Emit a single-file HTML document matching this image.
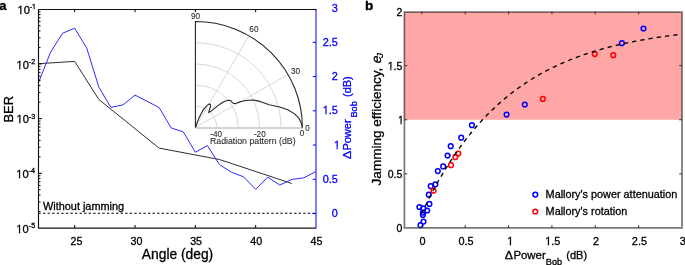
<!DOCTYPE html><html><head><meta charset="utf-8"><style>html,body{margin:0;padding:0;background:#fff;}svg{stroke-width:0.3px;display:block;will-change:transform;}text{font-family:"Liberation Sans", sans-serif;}</style></head><body>
<svg width="685" height="265" viewBox="0 0 685 265">
<line x1="38.50" y1="213.2" x2="316.00" y2="213.2" stroke="#000" stroke-width="1.05" stroke-dasharray="2.4 2.165" stroke-dashoffset="0.07"/>
<polyline points="38.50,63.70 74.70,61.40 98.83,99.50 159.15,148.10 219.48,159.50 291.87,183.50" fill="none" stroke="#2e2e2e" stroke-width="1.0" stroke-linejoin="round"/>
<polyline points="38.50,82.60 50.57,52.20 62.63,33.20 74.70,28.20 86.76,48.20 98.83,87.10 110.89,107.40 122.96,104.90 135.02,95.10 147.09,101.30 159.15,107.60 171.22,128.00 183.28,131.80 195.35,152.20 207.41,145.60 219.48,164.60 231.54,172.30 243.61,176.80 255.67,189.40 267.74,177.10 279.80,185.10 291.87,179.40 303.93,177.80 316.00,171.50" fill="none" stroke="#2a2aff" stroke-width="1.0" stroke-linejoin="round"/>
<path d="M216.80,127.50 A21.40,21.20 0 0 0 195.40,106.30 M238.20,127.50 A42.80,42.40 0 0 0 195.40,85.10 M259.60,127.50 A64.20,63.60 0 0 0 195.40,63.90 M281.00,127.50 A85.60,84.80 0 0 0 195.40,42.70 M195.40,127.50 L288.06,74.50 M195.40,127.50 L248.90,35.70" fill="none" stroke="#d4d4d4" stroke-width="0.9"/>
<line x1="195.40" y1="128.0" x2="302.90" y2="128.0" stroke="#c4c4c4" stroke-width="1.5"/>
<path d="M195.40,127.50 L195.40,21.50 A107.00,106.00 0 0 1 302.40,127.50" fill="none" stroke="#262626" stroke-width="1.1"/>
<polyline points="195.60,127.30 197.20,122.50 199.00,117.90 202.80,110.40 206.60,105.90 208.50,104.30 209.60,103.90 210.60,104.60 210.30,107.20 208.70,112.60 211.10,111.10 215.70,107.40 220.20,103.90 224.70,101.30 228.50,100.20 230.70,100.50 232.00,102.20 233.40,103.40 235.50,103.50 238.30,102.40 243.00,101.00 248.00,100.20 253.40,100.00 260.00,101.40 269.20,104.70 279.80,107.00 287.70,109.70 294.30,113.60 298.80,118.10 301.50,123.40 302.30,127.30" fill="none" stroke="#262626" stroke-width="1.1" stroke-linejoin="round"/>
<g font-size="8.2" fill="#262626" stroke="#262626" text-anchor="middle" style="stroke-width:0.08px">
<text x="195.60" y="19.35">90</text>
<text x="253.90" y="32.05">60</text>
<text x="295.50" y="74.05">30</text>
<text x="307.60" y="131.15">0</text>
<text x="216.20" y="136.65">-40</text>
<text x="259.80" y="136.65">-20</text>
<text x="302.10" y="136.35">0</text>
</g>
<text x="210" y="143.7" font-size="8.75" fill="#262626" stroke="#262626" style="stroke-width:0.08px">Radiation pattern (dB)</text>
<path d="M38.50,211.54 h2 M38.50,201.91 h2 M38.50,195.07 h2 M38.50,189.78 h2 M38.50,185.44 h2 M38.50,181.78 h2 M38.50,178.61 h2 M38.50,175.81 h2 M38.50,173.31 h3.5 M38.50,156.85 h2 M38.50,147.22 h2 M38.50,140.39 h2 M38.50,135.09 h2 M38.50,130.76 h2 M38.50,127.10 h2 M38.50,123.92 h2 M38.50,121.13 h2 M38.50,118.62 h3.5 M38.50,102.16 h2 M38.50,92.53 h2 M38.50,85.70 h2 M38.50,80.40 h2 M38.50,76.07 h2 M38.50,72.41 h2 M38.50,69.24 h2 M38.50,66.44 h2 M38.50,63.94 h3.5 M38.50,47.47 h2 M38.50,37.84 h2 M38.50,31.01 h2 M38.50,25.71 h2 M38.50,21.38 h2 M38.50,17.72 h2 M38.50,14.55 h2 M38.50,11.75 h2 M74.70,228.00 v-3 M74.70,9.25 v3 M135.02,228.00 v-3 M135.02,9.25 v3 M195.35,228.00 v-3 M195.35,9.25 v3 M255.67,228.00 v-3 M255.67,9.25 v3" stroke="#000" stroke-width="1" fill="none"/>
<path d="M38.50,8.95 V228.60 M37.95,9.5 H316.00" stroke="#111" stroke-width="1.15" fill="none"/>
<path d="M38.00,228.15 H316.00" stroke="#151515" stroke-width="1.3" fill="none"/>
<path d="M316.00,9.25 V228.50 M316.00,213.50 h-3.2 M316.00,179.27 h-3.2 M316.00,145.04 h-3.2 M316.00,110.81 h-3.2 M316.00,76.58 h-3.2 M316.00,42.35 h-3.2" stroke="#0000ff" stroke-width="1" fill="none"/>
<path d="M313.00,9.5 H316.50" stroke="#111" stroke-width="1.15" fill="none"/>
<g font-size="11.1" fill="#000" stroke="#000">
<text x="17.50" y="13.90">10</text>
<text x="29.70" y="9.25" font-size="7.2">-1</text>
<text x="16.50" y="68.59">10</text>
<text x="28.80" y="63.94" font-size="7.2">-2</text>
<text x="16.50" y="123.28">10</text>
<text x="28.80" y="118.62" font-size="7.2">-3</text>
<text x="16.30" y="177.96">10</text>
<text x="28.60" y="173.31" font-size="7.2">-4</text>
<text x="16.30" y="232.65">10</text>
<text x="28.80" y="228.00" font-size="7.2">-5</text>
</g>
<g font-size="10.7" fill="#000" stroke="#000" text-anchor="middle">
<text x="76.50" y="244.8">25</text>
<text x="136.50" y="244.8">30</text>
<text x="196.10" y="244.8">35</text>
<text x="256.30" y="244.8">40</text>
<text x="316.40" y="244.8">45</text>
</g>
<g font-size="10.9" fill="#0000ff" stroke="#0000ff" text-anchor="end">
<text x="337.80" y="217.05">0</text>
<text x="337.80" y="182.82">0.5</text>
<text x="340.00" y="148.59">1</text>
<text x="337.80" y="114.36">1.5</text>
<text x="337.80" y="80.13">2</text>
<text x="337.80" y="45.90">2.5</text>
<text x="337.80" y="11.67">3</text>
</g>
<text x="177.5" y="258.8" font-size="13.8" text-anchor="middle" fill="#000" stroke="#000">Angle (deg)</text>
<text transform="translate(12.6,109.3) rotate(-90)" font-size="12.9" text-anchor="middle" fill="#000" stroke="#000">BER</text>
<text x="43" y="209.8" font-size="10.9" fill="#000" stroke="#000">Without jamming</text>
<g fill="#0000ff" stroke="#0000ff" font-size="11">
<text transform="translate(351.3,159.2) rotate(-90) scale(1.17,1)" stroke="#0000ff" stroke-width="0.25">&#916;</text>
<text transform="translate(351.3,150.6) rotate(-90)">Power</text>
<text transform="translate(357.1,117.6) rotate(-90)" font-size="9.2">Bob</text>
<text transform="translate(351.3,97.0) rotate(-90)">(dB)</text>
</g>
<text x="-0.8" y="9.6" font-size="13" font-weight="bold" fill="#000" stroke="#000">a</text>
<rect x="404.0" y="12.0" width="278.00" height="107.75" fill="#ffa6a6"/>
<circle cx="420.50" cy="225.20" r="2.35" fill="none" stroke="#0000ff" stroke-width="1.5"/>
<circle cx="423.50" cy="221.60" r="2.35" fill="none" stroke="#0000ff" stroke-width="1.5"/>
<circle cx="422.90" cy="214.90" r="2.35" fill="none" stroke="#0000ff" stroke-width="1.5"/>
<circle cx="422.90" cy="212.60" r="2.35" fill="none" stroke="#0000ff" stroke-width="1.5"/>
<circle cx="423.30" cy="208.40" r="2.35" fill="none" stroke="#0000ff" stroke-width="1.5"/>
<circle cx="427.20" cy="210.50" r="2.35" fill="none" stroke="#0000ff" stroke-width="1.5"/>
<circle cx="419.40" cy="207.00" r="2.35" fill="none" stroke="#0000ff" stroke-width="1.5"/>
<circle cx="429.40" cy="203.90" r="2.35" fill="none" stroke="#0000ff" stroke-width="1.5"/>
<circle cx="428.80" cy="194.70" r="2.35" fill="none" stroke="#0000ff" stroke-width="1.5"/>
<circle cx="430.70" cy="186.20" r="2.35" fill="none" stroke="#0000ff" stroke-width="1.5"/>
<circle cx="435.40" cy="184.30" r="2.35" fill="none" stroke="#0000ff" stroke-width="1.5"/>
<circle cx="437.80" cy="171.10" r="2.35" fill="none" stroke="#0000ff" stroke-width="1.5"/>
<circle cx="443.20" cy="166.40" r="2.35" fill="none" stroke="#0000ff" stroke-width="1.5"/>
<circle cx="447.60" cy="155.60" r="2.35" fill="none" stroke="#0000ff" stroke-width="1.5"/>
<circle cx="450.70" cy="146.20" r="2.35" fill="none" stroke="#0000ff" stroke-width="1.5"/>
<circle cx="461.20" cy="137.70" r="2.35" fill="none" stroke="#0000ff" stroke-width="1.5"/>
<circle cx="471.90" cy="125.20" r="2.35" fill="none" stroke="#0000ff" stroke-width="1.5"/>
<circle cx="506.60" cy="114.60" r="2.35" fill="none" stroke="#0000ff" stroke-width="1.5"/>
<circle cx="524.80" cy="104.50" r="2.35" fill="none" stroke="#0000ff" stroke-width="1.5"/>
<circle cx="621.90" cy="43.20" r="2.35" fill="none" stroke="#0000ff" stroke-width="1.5"/>
<circle cx="643.50" cy="28.50" r="2.35" fill="none" stroke="#0000ff" stroke-width="1.5"/>
<circle cx="433.50" cy="190.70" r="2.35" fill="none" stroke="#ff0000" stroke-width="1.5"/>
<circle cx="451.00" cy="165.20" r="2.35" fill="none" stroke="#ff0000" stroke-width="1.5"/>
<circle cx="455.30" cy="157.20" r="2.35" fill="none" stroke="#ff0000" stroke-width="1.5"/>
<circle cx="458.30" cy="153.50" r="2.35" fill="none" stroke="#ff0000" stroke-width="1.5"/>
<circle cx="542.90" cy="98.90" r="2.35" fill="none" stroke="#ff0000" stroke-width="1.5"/>
<circle cx="594.80" cy="54.10" r="2.35" fill="none" stroke="#ff0000" stroke-width="1.5"/>
<circle cx="613.30" cy="55.20" r="2.35" fill="none" stroke="#ff0000" stroke-width="1.5"/>
<polyline points="421.84,213.06 422.27,212.16 422.70,211.25 423.13,210.36 423.56,209.46 423.99,208.57 424.41,207.69 424.84,206.81 425.27,205.93 425.70,205.06 426.13,204.19 426.56,203.33 426.99,202.47 427.41,201.61 427.84,200.76 428.27,199.92 428.70,199.07 429.13,198.23 429.56,197.40 429.99,196.57 430.41,195.74 430.84,194.92 431.27,194.10 431.70,193.28 432.13,192.47 432.56,191.66 432.99,190.86 433.41,190.06 433.84,189.26 434.27,188.47 434.70,187.68 435.13,186.90 435.56,186.12 435.99,185.34 436.41,184.57 436.84,183.80 437.27,183.03 437.70,182.27 438.13,181.51 438.56,180.76 438.99,180.00 439.41,179.26 439.84,178.51 440.27,177.77 440.70,177.03 441.13,176.30 441.56,175.57 441.98,174.84 442.41,174.12 442.84,173.40 443.27,172.69 443.70,171.97 444.13,171.26 444.56,170.56 444.98,169.86 445.41,169.16 445.84,168.46 446.27,167.77 446.70,167.08 447.13,166.39 447.56,165.71 447.98,165.03 448.41,164.35 448.84,163.68 449.27,163.01 449.70,162.35 450.13,161.68 450.56,161.02 450.98,160.37 451.41,159.71 451.84,159.06 452.27,158.41 452.70,157.77 453.13,157.13 453.56,156.49 453.98,155.86 454.41,155.22 454.84,154.59 455.27,153.97 455.70,153.35 456.13,152.73 456.56,152.11 456.98,151.49 457.41,150.88 457.84,150.27 458.27,149.67 458.70,149.07 459.13,148.47 459.55,147.87 459.98,147.28 460.41,146.69 460.84,146.10 461.27,145.51 461.70,144.93 462.13,144.35 462.55,143.77 462.98,143.20 463.41,142.63 463.84,142.06 464.27,141.49 464.70,140.93 465.13,140.37 465.55,139.81 465.98,139.26 466.41,138.70 466.84,138.15 467.27,137.61 467.70,137.06 468.13,136.52 468.55,135.98 468.98,135.44 469.41,134.91 469.84,134.38 470.27,133.85 470.70,133.32 471.13,132.80 471.55,132.28 471.98,131.76 472.41,131.24 472.84,130.73 473.27,130.21 473.70,129.71 474.13,129.20 474.55,128.69 474.98,128.19 475.41,127.69 475.84,127.20 476.27,126.70 476.70,126.21 477.12,125.72 477.55,125.23 477.98,124.75 478.41,124.26 478.84,123.78 479.27,123.30 479.70,122.83 480.12,122.35 480.55,121.88 480.98,121.41 481.41,120.95 481.84,120.48 482.27,120.02 482.70,119.56 483.12,119.10 483.55,118.64 483.98,118.19 484.41,117.74 484.84,117.29 485.27,116.84 485.70,116.40 486.12,115.95 486.55,115.51 486.98,115.07 487.41,114.64 487.84,114.20 488.27,113.77 488.70,113.34 489.12,112.91 489.55,112.49 489.98,112.06 490.41,111.64 490.84,111.22 491.27,110.80 491.69,110.38 492.12,109.97 492.55,109.56 492.98,109.15 493.41,108.74 493.84,108.33 494.27,107.93 494.69,107.53 495.12,107.13 495.55,106.73 495.98,106.33 496.41,105.94 496.84,105.54 497.27,105.15 497.69,104.76 498.12,104.38 498.55,103.99 498.98,103.61 499.41,103.23 499.84,102.85 500.27,102.47 500.69,102.09 501.12,101.72 501.55,101.34 501.98,100.97 502.41,100.60 502.84,100.24 503.27,99.87 503.69,99.51 504.12,99.15 504.55,98.79 504.98,98.43 505.41,98.07 505.84,97.71 506.27,97.36 506.69,97.01 507.12,96.66 507.55,96.31 507.98,95.96 508.41,95.62 508.84,95.28 509.26,94.93 509.69,94.59 510.12,94.26 510.55,93.92 510.98,93.58 511.41,93.25 511.84,92.92 512.26,92.59 512.69,92.26 513.12,91.93 513.55,91.60 513.98,91.28 514.41,90.96 514.84,90.64 515.26,90.32 515.69,90.00 516.12,89.68 516.55,89.37 516.98,89.05 517.41,88.74 517.84,88.43 518.26,88.12 518.69,87.82 519.12,87.51 519.55,87.20 519.98,86.90 520.41,86.60 520.84,86.30 521.26,86.00 521.69,85.70 522.12,85.41 522.55,85.11 522.98,84.82 523.41,84.53 523.84,84.24 524.26,83.95 524.69,83.66 525.12,83.38 525.55,83.09 525.98,82.81 526.41,82.53 526.83,82.24 527.26,81.97 527.69,81.69 528.12,81.41 528.55,81.14 528.98,80.86 529.41,80.59 529.83,80.32 530.26,80.05 530.69,79.78 531.12,79.51 531.55,79.24 531.98,78.98 532.41,78.72 532.83,78.45 533.26,78.19 533.69,77.93 534.12,77.67 534.55,77.42 534.98,77.16 535.41,76.91 535.83,76.65 536.26,76.40 536.69,76.15 537.12,75.90 537.55,75.65 537.98,75.40 538.41,75.15 538.83,74.91 539.26,74.66 539.69,74.42 540.12,74.18 540.55,73.94 540.98,73.70 541.41,73.46 541.83,73.22 542.26,72.99 542.69,72.75 543.12,72.52 543.55,72.29 543.98,72.05 544.40,71.82 544.83,71.59 545.26,71.37 545.69,71.14 546.12,70.91 546.55,70.69 546.98,70.46 547.40,70.24 547.83,70.02 548.26,69.80 548.69,69.58 549.12,69.36 549.55,69.14 549.98,68.93 550.40,68.71 550.83,68.50 551.26,68.28 551.69,68.07 552.12,67.86 552.55,67.65 552.98,67.44 553.40,67.23 553.83,67.02 554.26,66.82 554.69,66.61 555.12,66.41 555.55,66.20 555.98,66.00 556.40,65.80 556.83,65.60 557.26,65.40 557.69,65.20 558.12,65.00 558.55,64.81 558.98,64.61 559.40,64.42 559.83,64.22 560.26,64.03 560.69,63.84 561.12,63.65 561.55,63.46 561.97,63.27 562.40,63.08 562.83,62.89 563.26,62.70 563.69,62.52 564.12,62.33 564.55,62.15 564.97,61.97 565.40,61.78 565.83,61.60 566.26,61.42 566.69,61.24 567.12,61.06 567.55,60.89 567.97,60.71 568.40,60.53 568.83,60.36 569.26,60.18 569.69,60.01 570.12,59.84 570.55,59.66 570.97,59.49 571.40,59.32 571.83,59.15 572.26,58.99 572.69,58.82 573.12,58.65 573.55,58.48 573.97,58.32 574.40,58.15 574.83,57.99 575.26,57.83 575.69,57.66 576.12,57.50 576.54,57.34 576.97,57.18 577.40,57.02 577.83,56.86 578.26,56.71 578.69,56.55 579.12,56.39 579.54,56.24 579.97,56.08 580.40,55.93 580.83,55.78 581.26,55.62 581.69,55.47 582.12,55.32 582.54,55.17 582.97,55.02 583.40,54.87 583.83,54.72 584.26,54.58 584.69,54.43 585.12,54.28 585.54,54.14 585.97,53.99 586.40,53.85 586.83,53.71 587.26,53.56 587.69,53.42 588.12,53.28 588.54,53.14 588.97,53.00 589.40,52.86 589.83,52.72 590.26,52.58 590.69,52.45 591.12,52.31 591.54,52.17 591.97,52.04 592.40,51.90 592.83,51.77 593.26,51.64 593.69,51.50 594.11,51.37 594.54,51.24 594.97,51.11 595.40,50.98 595.83,50.85 596.26,50.72 596.69,50.59 597.11,50.47 597.54,50.34 597.97,50.21 598.40,50.09 598.83,49.96 599.26,49.84 599.69,49.71 600.11,49.59 600.54,49.47 600.97,49.34 601.40,49.22 601.83,49.10 602.26,48.98 602.69,48.86 603.11,48.74 603.54,48.62 603.97,48.50 604.40,48.39 604.83,48.27 605.26,48.15 605.69,48.04 606.11,47.92 606.54,47.81 606.97,47.69 607.40,47.58 607.83,47.47 608.26,47.35 608.69,47.24 609.11,47.13 609.54,47.02 609.97,46.91 610.40,46.80 610.83,46.69 611.26,46.58 611.68,46.47 612.11,46.36 612.54,46.26 612.97,46.15 613.40,46.04 613.83,45.94 614.26,45.83 614.68,45.73 615.11,45.62 615.54,45.52 615.97,45.41 616.40,45.31 616.83,45.21 617.26,45.11 617.68,45.01 618.11,44.90 618.54,44.80 618.97,44.70 619.40,44.61 619.83,44.51 620.26,44.41 620.68,44.31 621.11,44.21 621.54,44.11 621.97,44.02 622.40,43.92 622.83,43.83 623.26,43.73 623.68,43.64 624.11,43.54 624.54,43.45 624.97,43.35 625.40,43.26 625.83,43.17 626.26,43.08 626.68,42.99 627.11,42.89 627.54,42.80 627.97,42.71 628.40,42.62 628.83,42.53 629.25,42.44 629.68,42.36 630.11,42.27 630.54,42.18 630.97,42.09 631.40,42.01 631.83,41.92 632.25,41.83 632.68,41.75 633.11,41.66 633.54,41.58 633.97,41.49 634.40,41.41 634.83,41.32 635.25,41.24 635.68,41.16 636.11,41.08 636.54,40.99 636.97,40.91 637.40,40.83 637.83,40.75 638.25,40.67 638.68,40.59 639.11,40.51 639.54,40.43 639.97,40.35 640.40,40.27 640.83,40.19 641.25,40.12 641.68,40.04 642.11,39.96 642.54,39.89 642.97,39.81 643.40,39.73 643.82,39.66 644.25,39.58 644.68,39.51 645.11,39.43 645.54,39.36 645.97,39.28 646.40,39.21 646.82,39.14 647.25,39.07 647.68,38.99 648.11,38.92 648.54,38.85 648.97,38.78 649.40,38.71 649.82,38.64 650.25,38.57 650.68,38.50 651.11,38.43 651.54,38.36 651.97,38.29 652.40,38.22 652.82,38.15 653.25,38.08 653.68,38.01 654.11,37.95 654.54,37.88 654.97,37.81 655.40,37.75 655.82,37.68 656.25,37.62 656.68,37.55 657.11,37.48 657.54,37.42 657.97,37.36 658.40,37.29 658.82,37.23 659.25,37.16 659.68,37.10 660.11,37.04 660.54,36.97 660.97,36.91 661.39,36.85 661.82,36.79 662.25,36.73 662.68,36.67 663.11,36.60 663.54,36.54 663.97,36.48 664.39,36.42 664.82,36.36 665.25,36.30 665.68,36.24 666.11,36.19 666.54,36.13 666.97,36.07 667.39,36.01 667.82,35.95 668.25,35.90 668.68,35.84 669.11,35.78 669.54,35.72 669.97,35.67 670.39,35.61 670.82,35.56 671.25,35.50 671.68,35.44 672.11,35.39 672.54,35.34 672.97,35.28 673.39,35.23 673.82,35.17 674.25,35.12 674.68,35.06 675.11,35.01 675.54,34.96 675.97,34.91 676.39,34.85 676.82,34.80 677.25,34.75 677.68,34.70 678.11,34.65 678.54,34.59 678.96,34.54" fill="none" stroke="#000" stroke-width="1.35" stroke-dasharray="4.3 4.05" stroke-dashoffset="0.56"/>
<path d="M421.84,228.00 v-2.8 M421.84,11.50 v2.8 M465.20,228.00 v-2.8 M465.20,11.50 v2.8 M508.56,228.00 v-2.8 M508.56,11.50 v2.8 M551.92,228.00 v-2.8 M551.92,11.50 v2.8 M595.28,228.00 v-2.8 M595.28,11.50 v2.8 M638.64,228.00 v-2.8 M638.64,11.50 v2.8 M404.50,173.88 h2.8 M682.00,173.88 h-2.8 M404.50,119.75 h2.8 M682.00,119.75 h-2.8 M404.50,65.62 h2.8 M682.00,65.62 h-2.8" stroke="#333" stroke-width="1" fill="none"/>
<path d="M404.4,227.8 V12.0 H682.0 V227.8 Z" fill="none" stroke="#333" stroke-opacity="0.66" stroke-width="1.75"/>
<g font-size="10.5" fill="#000" stroke="#000" text-anchor="end">
<text x="402.30" y="232.10">0</text>
<text x="402.30" y="177.97">0.5</text>
<text x="403.80" y="123.85">1</text>
<text x="402.30" y="69.72">1.5</text>
<text x="402.30" y="15.60">2</text>
</g>
<g font-size="10.9" fill="#000" stroke="#000" text-anchor="middle">
<text x="422.64" y="245.4">0</text>
<text x="466.00" y="245.4">0.5</text>
<text x="510.16" y="245.4">1</text>
<text x="552.72" y="245.4">1.5</text>
<text x="596.08" y="245.4">2</text>
<text x="639.44" y="245.4">2.5</text>
<text x="682.80" y="245.4">3</text>
</g>
<g fill="#000" stroke="#000" font-size="11">
<text transform="translate(504.8,259) scale(1.12,1)">&#916;</text>
<text x="513.4" y="259" font-size="11.4">Power</text>
<text x="545.8" y="264.7" font-size="9.2">Bob</text>
<text x="566.3" y="259">(dB)</text>
</g>
<text transform="translate(380.6,185.4) rotate(-90)" font-size="13.55" fill="#000" stroke="#000">Jamming efficiency,</text>
<text transform="translate(380.6,64.0) rotate(-90) skewX(-13)" font-size="13.55" fill="#000" stroke="#000">e</text>
<text transform="translate(383.3,57.8) rotate(-90)" font-size="9.6" font-style="italic" fill="#000" stroke="#000">J</text>
<circle cx="535.3" cy="194.6" r="2.35" fill="none" stroke="#0000ff" stroke-width="1.5"/>
<circle cx="535.3" cy="211.5" r="2.35" fill="none" stroke="#ff0000" stroke-width="1.5"/>
<text x="545.6" y="197.6" font-size="10.85" fill="#000" stroke="#000">Mallory&#39;s power attenuation</text>
<text x="545.6" y="214.5" font-size="10.85" fill="#000" stroke="#000">Mallory&#39;s rotation</text>
<text x="364.9" y="9.7" font-size="13.6" font-weight="bold" fill="#000" stroke="#000">b</text>
<g fill="#fff"><rect x="17.83" y="12.42" width="2.25" height="2.98"/><rect x="21.47" y="12.42" width="2.24" height="2.98"/><rect x="32.31" y="8.06" width="1.39" height="2.69"/><rect x="34.75" y="8.06" width="1.38" height="2.69"/><rect x="16.83" y="67.11" width="2.25" height="2.98"/><rect x="20.47" y="67.11" width="2.24" height="2.98"/><rect x="16.83" y="121.80" width="2.25" height="2.98"/><rect x="20.47" y="121.80" width="2.24" height="2.98"/><rect x="16.63" y="176.48" width="2.25" height="2.98"/><rect x="20.27" y="176.48" width="2.24" height="2.98"/><rect x="16.63" y="231.17" width="2.25" height="2.98"/><rect x="20.27" y="231.17" width="2.24" height="2.98"/><rect x="334.27" y="147.13" width="2.21" height="2.96"/><rect x="337.85" y="147.13" width="2.20" height="2.96"/><rect x="322.98" y="112.90" width="2.21" height="2.96"/><rect x="326.56" y="112.90" width="2.20" height="2.96"/><rect x="398.28" y="122.42" width="2.12" height="2.93"/><rect x="401.73" y="122.42" width="1.82" height="2.93"/><rect x="388.02" y="68.29" width="2.12" height="2.93"/><rect x="391.48" y="68.29" width="2.11" height="2.93"/><rect x="507.46" y="243.94" width="2.21" height="2.96"/><rect x="511.04" y="243.94" width="2.20" height="2.96"/><rect x="545.47" y="243.94" width="2.21" height="2.96"/><rect x="549.05" y="243.94" width="2.20" height="2.96"/></g>
</svg></body></html>
